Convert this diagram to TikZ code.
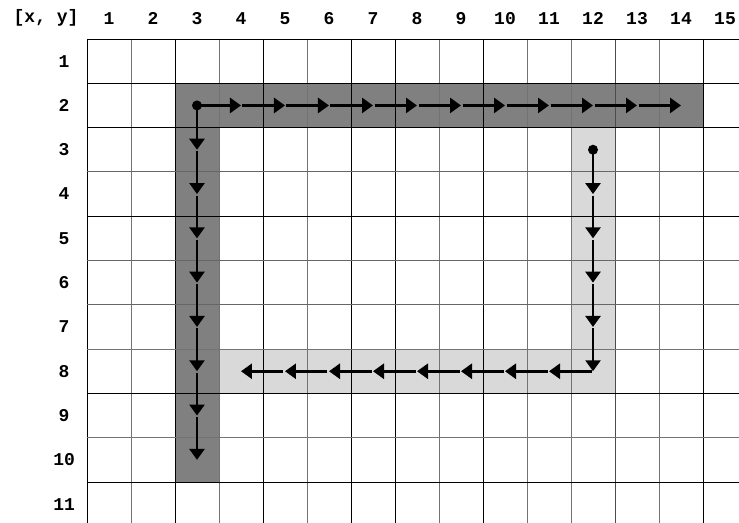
\documentclass[tikz,border=0pt]{standalone}
\usepackage{fontspec}
\setmonofont{Liberation Mono}
\usetikzlibrary{arrows.meta}

\begin{document}
\begin{tikzpicture}[x=44pt,y=-44.3pt]
  \tikzset{mainshade/.style={fill=black!50,draw=none}}
  \tikzset{detourshade/.style={fill=black!15,draw=none}}
  \tikzset{gridline/.style={line width=0.9pt}}
  \tikzset{stepedge/.style={draw=black,line width=2.6pt,-{Triangle[length=11pt,width=15pt]},shorten <=1.5pt}}
  \tikzset{startdot/.style={circle,fill=black,draw=none,inner sep=0pt,minimum size=10pt}}
  \tikzset{axislabel/.style={font=\ttfamily\bfseries\fontsize{18}{20}\selectfont,inner sep=0pt,text=black}}

  \useasboundingbox (-1.977,-0.880) rectangle (14.818,10.903);
  \clip (-1.977,-0.880) rectangle (14.818,10.903);

  % shaded cells
  \fill[mainshade] (2,1) rectangle (14,2);
  \fill[mainshade] (2,2) rectangle (3,10);
  \fill[detourshade] (11,2) rectangle (12,7);
  \fill[detourshade] (3,7) rectangle (12,8);

  % grid
  \foreach \gx/\gc in {0/black,1/black!55,2/black,3/black!55,4/black,5/black!55,6/black,7/black,
                       8/black!55,9/black,10/black!55,11/black!55,12/black!70,13/black!55,14/black,15/black}
    \draw[gridline,draw=\gc] (\gx,0) -- (\gx,11);
  \foreach \gy/\gc in {0/black,1/black,2/black,3/black!60,4/black,5/black!60,6/black!60,7/black!55,
                       8/black,9/black!55,10/black,11/black}
    \draw[gridline,draw=\gc] (0,\gy) -- (15,\gy);

  % labels
  \node[axislabel] (corner) at (-0.93,-0.47) {[x, y]};
  \foreach \i in {1,...,15}
    \node[axislabel] (col\i) at (\i-0.5,-0.47) {\i};
  \foreach \j in {1,...,11}
    \node[axislabel] (row\j) at (-0.52,\j-0.5) {\j};

  % cell centres
  \foreach \i in {1,...,15}
    \foreach \j in {1,...,11}
      \coordinate (c\i-\j) at (\i-0.5,\j-0.5);

  % main path
  \node[startdot] (start) at (c3-2) {};
  \foreach \i [evaluate=\i as \n using int(\i+1)] in {3,...,13}
    \draw[stepedge] (c\i-2) -- (c\n-2);
  \foreach \j [evaluate=\j as \n using int(\j+1)] in {2,...,9}
    \draw[stepedge] (c3-\j) -- (c3-\n);

  % detour
  \node[startdot] (detour) at (c12-3) {};
  \foreach \j [evaluate=\j as \n using int(\j+1)] in {3,...,7}
    \draw[stepedge] (c12-\j) -- (c12-\n);
  \foreach \i [evaluate=\i as \n using int(\i-1)] in {12,...,5}
    \draw[stepedge] (c\i-8) -- (c\n-8);
\end{tikzpicture}
\end{document}
